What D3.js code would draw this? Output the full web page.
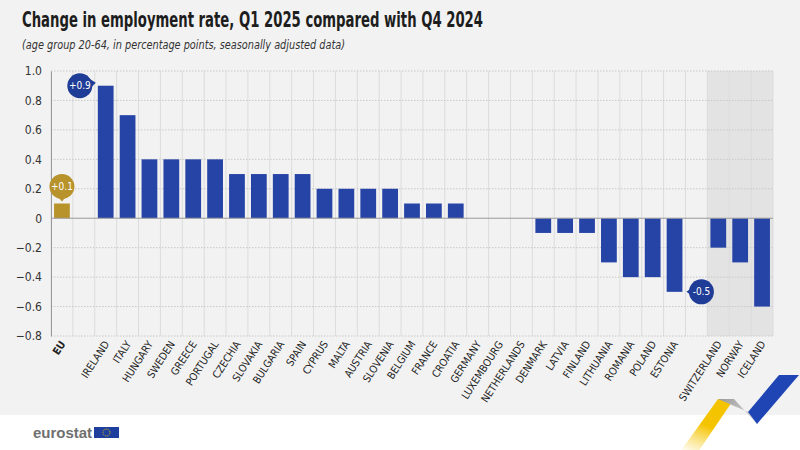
<!DOCTYPE html>
<html>
<head>
<meta charset="utf-8">
<script src="https://cdn.jsdelivr.net/npm/d3@7"></script>
<style>
	body { margin: 0; background: #fff; }
	svg { display: block; }
</style>
</head>
<body>
<div id="chart"></div>
<script>
// slots: "" = empty spacer column
var countries = ["EU", "", "IRELAND", "ITALY", "HUNGARY", "SWEDEN", "GREECE", "PORTUGAL", "CZECHIA",
	"SLOVAKIA", "BULGARIA", "SPAIN", "CYPRUS", "MALTA", "AUSTRIA", "SLOVENIA", "BELGIUM", "FRANCE",
	"CROATIA", "GERMANY", "LUXEMBOURG", "NETHERLANDS", "DENMARK", "LATVIA", "FINLAND", "LITHUANIA",
	"ROMANIA", "POLAND", "ESTONIA", "", "SWITZERLAND", "NORWAY", "ICELAND"];
var changes = [0.1, null, 0.9, 0.7, 0.4, 0.4, 0.4, 0.4, 0.3,
	0.3, 0.3, 0.3, 0.2, 0.2, 0.2, 0.2, 0.1, 0.1,
	0.1, 0, 0, 0, -0.1, -0.1, -0.1, -0.3,
	-0.4, -0.4, -0.5, null, -0.2, -0.3, -0.6];
var efta = ["SWITZERLAND", "NORWAY", "ICELAND"];
var yTicks = [1.0, 0.8, 0.6, 0.4, 0.2, 0, -0.2, -0.4, -0.6, -0.8];
// callouts: [slot index, value, label, side]
var callouts = [
	[0, 0.1, "+0.1", "top"],
	[1, 0.9, "+0.9", "right"],
	[29, -0.5, "-0.5", "left"]
];

var W = 800, H = 450,
	plotLeft = 51, plotRight = 773, plotTop = 71, plotBottom = 336,
	blue = "#2643a6", gold = "#b8922a",
	narrow = "'Liberation Sans Narrow', 'DejaVu Sans Condensed', sans-serif";

var svg = d3.select("#chart").append("svg")
	.attr("width", W)
	.attr("height", H);

svg.append("rect")
	.attr("width", W).attr("height", 415)
	.attr("fill", "#f2f2f2");

var x = d3.scaleBand()
	.domain(d3.range(countries.length))
	.range([plotLeft, plotRight])
	.paddingInner(0);

var y = d3.scaleLinear()
	.domain([-0.8, 1.0])
	.range([plotBottom, plotTop]);

// EFTA shading
var firstEfta = countries.indexOf(efta[0]);
svg.append("rect")
	.attr("x", x(firstEfta))
	.attr("y", plotTop)
	.attr("width", plotRight - x(firstEfta))
	.attr("height", plotBottom - plotTop)
	.attr("fill", "#e3e3e3");

// vertical grid
svg.append("g").selectAll("line")
	.data(d3.range(countries.length + 1))
	.enter().append("line")
	.attr("x1", function(i) { return plotLeft + i * x.bandwidth(); })
	.attr("x2", function(i) { return plotLeft + i * x.bandwidth(); })
	.attr("y1", plotTop).attr("y2", plotBottom)
	.attr("stroke", "#dcdcdc")
	.attr("stroke-width", 1);

// horizontal grid (dotted)
svg.append("g").selectAll("line")
	.data(yTicks.filter(function(d) { return d !== 0; }))
	.enter().append("line")
	.attr("x1", plotLeft).attr("x2", plotRight)
	.attr("y1", function(d) { return y(d); })
	.attr("y2", function(d) { return y(d); })
	.attr("stroke", "#c8c8c8")
	.attr("stroke-dasharray", "1.5,1.5");

// y axis
var yAxis = svg.append("g")
	.attr("transform", "translate(" + plotLeft + ",0)")
	.call(d3.axisLeft(y).tickValues(yTicks).tickSize(0).tickPadding(9)
		.tickFormat(function(d) { return d === 0 ? "0" : d3.format(".1f")(d); }));
yAxis.select(".domain").attr("stroke", "#9a9a9a");
yAxis.selectAll("text")
	.attr("font-family", narrow)
	.attr("font-size", 12)
	.attr("fill", "#333");

// bars
var bw = x.bandwidth() * 0.72;
svg.append("g").selectAll("rect")
	.data(changes.map(function(v, i) { return {v: v, i: i}; })
		.filter(function(d) { return d.v !== null && d.v !== 0; }))
	.enter().append("rect")
	.attr("x", function(d) { return x(d.i) + (x.bandwidth() - bw) / 2; })
	.attr("y", function(d) { return y(Math.max(0, d.v)); })
	.attr("width", bw)
	.attr("height", function(d) { return Math.abs(y(d.v) - y(0)); })
	.attr("fill", function(d) { return countries[d.i] === "EU" ? gold : blue; });

// zero line
svg.append("line")
	.attr("x1", plotLeft).attr("x2", plotRight)
	.attr("y1", y(0)).attr("y2", y(0))
	.attr("stroke", "#999");

// x labels
svg.append("g").selectAll("text")
	.data(countries.map(function(c, i) { return {c: c, i: i}; })
		.filter(function(d) { return d.c !== ""; }))
	.enter().append("text")
	.attr("transform", function(d) {
		return "translate(" + (x(d.i) + x.bandwidth() / 2 + 4) + "," + (plotBottom + 8) + ") rotate(-57)";
	})
	.attr("text-anchor", "end")
	.attr("font-family", narrow)
	.attr("font-size", 10.5)
	.attr("font-weight", function(d) { return d.c === "EU" ? "bold" : "normal"; })
	.attr("fill", "#222")
	.text(function(d) { return d.c; });

// callouts
var co = svg.append("g").selectAll("g")
	.data(callouts)
	.enter().append("g")
	.attr("transform", function(d) {
		var cx = x(d[0]) + x.bandwidth() / 2, cy = y(d[1]);
		if (d[3] === "top") cy -= 17;
		if (d[3] === "right") cx -= 4;
		if (d[3] === "left") cx += 5;
		return "translate(" + cx + "," + cy + ")";
	});
co.append("path")
	.attr("d", function(d) {
		if (d[3] === "top") return "M-5,9L5,9L0,15Z";
		if (d[3] === "right") return "M8,-8L8,5L16,-3Z";
		return "M-8,-5L-8,5L-15,0Z";
	})
	.attr("fill", function(d) { return d[3] === "top" ? gold : "#1f3c96"; });
co.append("circle")
	.attr("r", 12.5)
	.attr("fill", function(d) { return d[3] === "top" ? gold : "#1f3c96"; });
co.append("text")
	.attr("text-anchor", "middle")
	.attr("dy", "0.35em")
	.attr("font-family", narrow)
	.attr("font-size", 10)
	.attr("fill", "#fff")
	.text(function(d) { return d[2]; });

// titles
svg.append("text")
	.attr("x", 22).attr("y", 27)
	.attr("font-family", narrow)
	.attr("font-size", 21)
	.attr("font-weight", "bold")
	.attr("fill", "#1d1d1d")
	.attr("textLength", 461)
	.attr("lengthAdjust", "spacingAndGlyphs")
	.text("Change in employment rate, Q1 2025 compared with Q4 2024");
svg.append("text")
	.attr("x", 22).attr("y", 49)
	.attr("font-family", narrow)
	.attr("font-size", 12)
	.attr("font-style", "italic")
	.attr("fill", "#333")
	.attr("textLength", 323)
	.attr("lengthAdjust", "spacingAndGlyphs")
	.text("(age group 20-64, in percentage points, seasonally adjusted data)");

// logo
svg.append("text")
	.attr("x", 33).attr("y", 438)
	.attr("font-family", "'Liberation Sans', Arial, sans-serif")
	.attr("font-size", 15)
	.attr("font-weight", "bold")
	.attr("fill", "#6f6f6f")
	.attr("textLength", 59)
	.text("eurostat");
svg.append("rect")
	.attr("x", 94).attr("y", 427).attr("width", 25).attr("height", 11)
	.attr("fill", "#1f3f9e");
svg.append("circle")
	.attr("cx", 106.5).attr("cy", 432.5).attr("r", 3.5)
	.attr("fill", "none").attr("stroke", "#e8c800").attr("stroke-width", 1)
	.attr("stroke-dasharray", "1,1");

// ribbon decoration
var defs = svg.append("defs");
var grad = defs.append("linearGradient")
	.attr("id", "yfade").attr("x1", 0).attr("y1", 1).attr("x2", 0.4).attr("y2", 0);
grad.append("stop").attr("offset", "0").attr("stop-color", "#f7d23a").attr("stop-opacity", 0);
grad.append("stop").attr("offset", "0.6").attr("stop-color", "#f5c400").attr("stop-opacity", 1);
var ggrad = defs.append("linearGradient")
	.attr("id", "gfade").attr("x1", 0).attr("y1", 0).attr("x2", 1).attr("y2", 1);
ggrad.append("stop").attr("offset", "0").attr("stop-color", "#9a9a9a");
ggrad.append("stop").attr("offset", "1").attr("stop-color", "#e6e6e6");

svg.append("path")
	.attr("d", "M680,452L698,452L734,399L718,399Z")
	.attr("fill", "url(#yfade)");
svg.append("path")
	.attr("d", "M718,399L734,399L757,424L748,412Z")
	.attr("fill", "url(#gfade)");
svg.append("path")
	.attr("d", "M748,412L757,424L799,375L779,375Z")
	.attr("fill", "#1f45b5");
</script>
</body>
</html>
